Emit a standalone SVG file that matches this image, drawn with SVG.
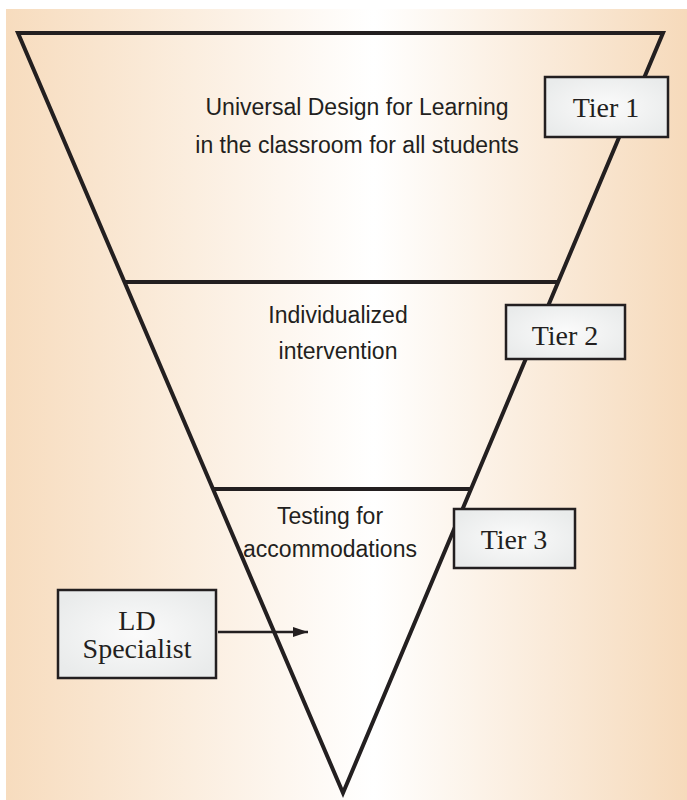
<svg xmlns="http://www.w3.org/2000/svg" width="687" height="800" viewBox="0 0 687 800">
<defs>
<linearGradient id="bg" x1="0" y1="0" x2="1" y2="0">
<stop offset="0" stop-color="#f7dcbe"/>
<stop offset="0.54" stop-color="#ffffff"/>
<stop offset="1" stop-color="#f6dabb"/>
</linearGradient>
<radialGradient id="boxfill" cx="0.5" cy="0.5" r="0.6">
<stop offset="0" stop-color="#fbfbfb"/>
<stop offset="1" stop-color="#e9ebeb"/>
</radialGradient>
<marker id="arrow" viewBox="0 0 15 10" refX="15" refY="5" markerWidth="15" markerHeight="10" markerUnits="userSpaceOnUse" orient="auto">
<path d="M0,0 L15,5 L0,10 z" fill="#231f20"/>
</marker>
<style>
.edge{stroke:#231f20;stroke-width:4;fill:none;stroke-linejoin:miter}
.box{fill:url(#boxfill);stroke:#231f20;stroke-width:2.5}
.sans{font-family:"Liberation Sans",Arial,sans-serif;font-size:23px;fill:#231f20;text-anchor:middle}
.serif{font-family:"Liberation Serif","Times New Roman",serif;font-size:28px;fill:#231f20;text-anchor:middle}
</style>
</defs>
<rect x="6" y="9" width="681" height="791" fill="url(#bg)"/>
<g id="pyramid">
<polygon class="edge" points="18,33 663,33 343,793"/>
<line class="edge" x1="124" y1="282" x2="558" y2="282"/>
<line class="edge" x1="212" y1="489" x2="472" y2="489"/>
</g>
<g id="tier1-text">
<text class="sans" x="357" y="115">Universal Design for Learning</text>
<text class="sans" x="357" y="153">in the classroom for all students</text>
</g>
<g id="tier2-text">
<text class="sans" x="338" y="323">Individualized</text>
<text class="sans" x="338" y="359">intervention</text>
</g>
<g id="tier3-text">
<text class="sans" x="330" y="524">Testing for</text>
<text class="sans" x="330" y="557">accommodations</text>
</g>
<g id="tier1">
<rect class="box" x="545" y="77" width="123" height="60"/>
<text class="serif" x="606" y="117">Tier 1</text>
</g>
<g id="tier2">
<rect class="box" x="506" y="305" width="119" height="54"/>
<text class="serif" x="565" y="345">Tier 2</text>
</g>
<g id="tier3">
<rect class="box" x="454" y="509" width="121" height="59"/>
<text class="serif" x="514" y="549">Tier 3</text>
</g>
<g id="ld-specialist">
<rect class="box" x="58" y="590" width="158" height="88"/>
<text class="serif" x="137" y="630">LD</text>
<text class="serif" x="137" y="658">Specialist</text>
</g>
<g id="connectors">
<line x1="218" y1="632" x2="308" y2="632" stroke="#231f20" stroke-width="2.5" marker-end="url(#arrow)"/>
</g>
</svg>
